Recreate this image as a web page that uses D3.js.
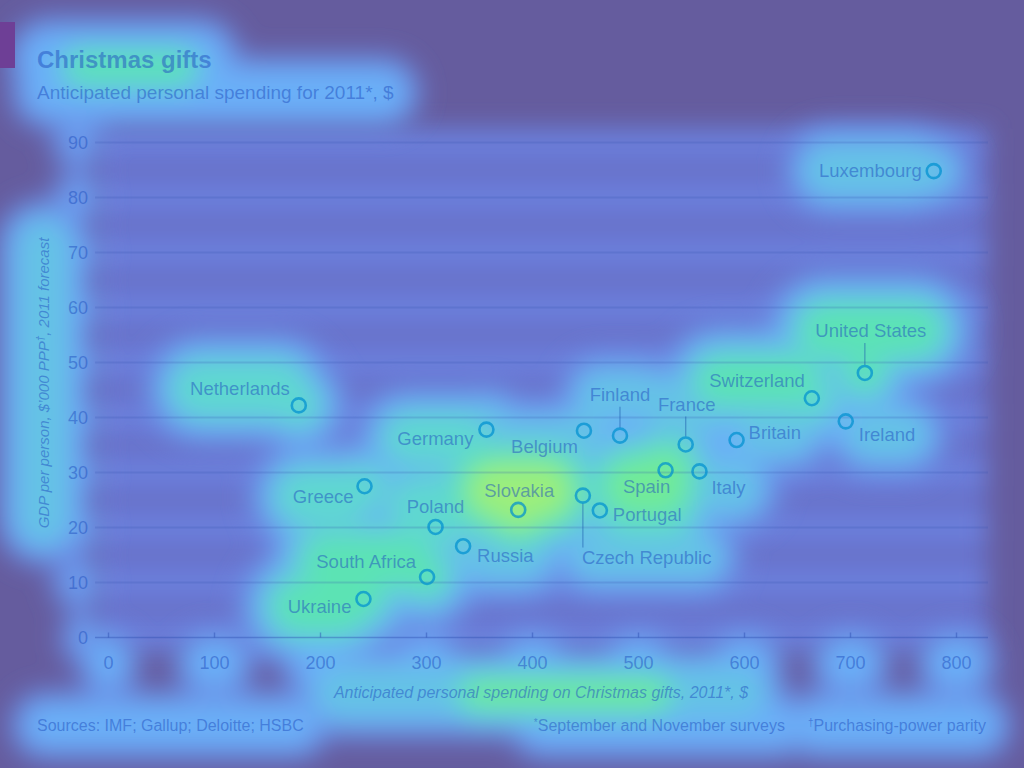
<!DOCTYPE html>
<html><head><meta charset="utf-8">
<script src="https://cdn.jsdelivr.net/npm/d3@7"></script>
<style>
html,body{margin:0;padding:0;background:#655c9e;}
svg{display:block;}
text{font-family:"Liberation Sans",Arial,sans-serif;}
</style></head>
<body>
<svg id="c" width="1024" height="768"></svg>
<script>
// ---- data ----
const countries = ["Luxembourg","United States","Switzerland","Ireland","Britain","France","Finland","Belgium","Germany","Netherlands","Greece","Poland","Russia","South Africa","Ukraine","Slovakia","Czech Republic","Portugal","Spain","Italy"];
const spending  = [779, 714, 664, 696, 593, 545, 483, 449, 357, 180, 242, 309, 335, 301, 241, 387, 448, 464, 526, 558];
const gdp       = [84.8, 48.1, 43.5, 39.3, 35.9, 35.1, 36.7, 37.6, 37.8, 42.2, 27.5, 20.1, 16.6, 11.0, 7.0, 23.2, 25.8, 23.1, 30.4, 30.2];
const xTicks = [0,100,200,300,400,500,600,700,800];
const yTicks = [0,10,20,30,40,50,60,70,80,90];

// ---- label placement (style) ----
const place = {
  "Luxembourg":    {a:"end",   dx:-12, dy:6},
  "United States": {a:"middle",dx:6,   dy:-36, lead:[-8,-30]},
  "Switzerland":   {a:"end",   dx:-7,  dy:-11},
  "Ireland":       {a:"start", dx:13,  dy:20},
  "Britain":       {a:"start", dx:12,  dy:-1},
  "France":        {a:"middle",dx:1,   dy:-33, lead:[-8,-28]},
  "Finland":       {a:"middle",dx:0,   dy:-35, lead:[-8,-29]},
  "Belgium":       {a:"end",   dx:-6,  dy:22},
  "Germany":       {a:"end",   dx:-13, dy:15},
  "Netherlands":   {a:"end",   dx:-9,  dy:-10},
  "Greece":        {a:"end",   dx:-11, dy:17},
  "Poland":        {a:"middle",dx:0,   dy:-14},
  "Russia":        {a:"start", dx:14,  dy:16},
  "South Africa":  {a:"end",   dx:-11, dy:-9},
  "Ukraine":       {a:"end",   dx:-12, dy:14},
  "Slovakia":      {a:"middle",dx:1,   dy:-13},
  "Czech Republic":{a:"start", dx:-1,  dy:68, lead:[8,52]},
  "Portugal":      {a:"start", dx:13,  dy:11},
  "Spain":         {a:"middle",dx:-19, dy:23},
  "Italy":         {a:"start", dx:12,  dy:23}
};
const heat = {
  "Luxembourg":0.56,"United States":0.7,"Switzerland":0.68,"Ireland":0.54,"Britain":0.54,
  "France":0.57,"Finland":0.52,"Belgium":0.58,"Germany":0.62,"Netherlands":0.66,"Greece":0.65,
  "Poland":0.66,"Russia":0.56,"South Africa":0.7,"Ukraine":0.7,"Slovakia":0.86,"Czech Republic":0.52,
  "Portugal":0.62,"Spain":0.8,"Italy":0.56
};

const W=1024,H=768;
const svg=d3.select("#c");
const x=d3.scaleLinear().domain([0,800]).range([108,956]);
const y=d3.scaleLinear().domain([0,90]).range([637.5,142.5]);
const cmap=d3.scaleLinear()
  .domain([0,0.25,0.45,0.6,0.7,0.85,1])
  .range(["#655c9e","#6a78d8","#6ab0f8","#5fd8d0","#5ae8a8","#b4f06a","#f0e050"])
  .interpolate(d3.interpolateRgb);

const defs=svg.append("defs");
[["blur",13],["blur2",12]].forEach(([id,s])=>{
  defs.append("filter").attr("id",id).attr("filterUnits","userSpaceOnUse")
    .attr("x",-60).attr("y",-60).attr("width",W+120).attr("height",H+120)
    .append("feGaussianBlur").attr("stdDeviation",s);
});

svg.append("rect").attr("width",W).attr("height",H).attr("fill","#655c9e");
const heatBase=svg.append("g").attr("filter","url(#blur2)");
const heatG=svg.append("g").attr("filter","url(#blur)");
const chart=svg.append("g");

const TXT="#2050c0", TOP=0.5;
const items=[];
function addHeat(sel,h,k,b0){ sel.each(function(){ const b=this.getBoundingClientRect(); items.push({x:b.left,y:b.top,w:b.width,h:b.height,heat:h,k:k||105,b0:b0==null?9:b0}); }); }

// plot base & gridline bands
heatBase.append("rect").attr("x",95).attr("y",132).attr("width",893).attr("height",515).attr("fill",cmap(0.18));
heatBase.selectAll("rect.band").data(yTicks).join("rect").attr("class","band")
  .attr("x",95).attr("width",893).attr("y",d=>y(d)-14).attr("height",28).attr("fill",cmap(0.28));

// tag
chart.append("rect").attr("x",0).attr("y",22).attr("width",15).attr("height",46).attr("fill","#6e3f96");

// title
const t1=chart.append("text").attr("x",37).attr("y",68).attr("font-size",24).attr("font-weight","bold")
  .attr("fill",TXT).attr("fill-opacity",TOP).text("Christmas gifts");
addHeat(t1,0.5);
const t1h=chart.append("rect").attr("x",75).attr("y",62).attr("width",110).attr("height",12).attr("fill","none");
addHeat(t1h,0.7,80,4);
const t2=chart.append("text").attr("x",37).attr("y",99).attr("font-size",19)
  .attr("fill",TXT).attr("fill-opacity",TOP).text("Anticipated personal spending for 2011*, $");
addHeat(t2,0.47);

// gridlines
chart.append("g").selectAll("line").data(yTicks.filter(d=>d>0)).join("line")
  .attr("x1",95).attr("x2",988).attr("y1",d=>y(d)).attr("y2",d=>y(d))
  .attr("stroke","#3050b0").attr("stroke-opacity",0.2).attr("stroke-width",2);
chart.append("line").attr("x1",95).attr("x2",988).attr("y1",y(0)).attr("y2",y(0))
  .attr("stroke","#2a4cb0").attr("stroke-opacity",0.4).attr("stroke-width",1.5);

// y axis
const ya=chart.append("g").attr("transform","translate(95,0)")
  .call(d3.axisLeft(y).tickValues(yTicks).tickSize(0).tickPadding(7));
ya.select(".domain").remove();
ya.selectAll("text").attr("font-size",18).attr("font-family","Liberation Sans, Arial, sans-serif")
  .attr("fill",TXT).attr("fill-opacity",TOP);
addHeat(ya.selectAll("text"),0.38);

// x axis
const xa=chart.append("g").attr("transform",`translate(0,${y(0)})`)
  .call(d3.axisBottom(x).tickValues(xTicks).tickSize(-5).tickPadding(19));
xa.select(".domain").remove();
xa.selectAll("line").attr("stroke","#2a4cb0").attr("stroke-opacity",0.45).attr("stroke-width",1.4);
xa.selectAll("text").attr("font-size",18).attr("font-family","Liberation Sans, Arial, sans-serif")
  .attr("fill",TXT).attr("fill-opacity",TOP);
addHeat(xa.selectAll("text"),0.46);

// axis titles
const xt=chart.append("text").attr("x",541).attr("y",698).attr("text-anchor","middle")
  .attr("font-size",16).attr("font-style","italic").attr("fill",TXT).attr("fill-opacity",TOP)
  .text("Anticipated personal spending on Christmas gifts, 2011*, $");
addHeat(xt,0.58);
const xth=chart.append("rect").attr("x",470).attr("y",688).attr("width",190).attr("height",12).attr("fill","none");
addHeat(xth,0.74,80,4);
const ytit=chart.append("text").attr("transform","translate(49,383) rotate(-90)").attr("text-anchor","middle")
  .attr("font-size",15).attr("font-style","italic").attr("fill",TXT).attr("fill-opacity",TOP);
ytit.append("tspan").text("GDP per person, $\u2019000 PPP");
ytit.append("tspan").attr("baseline-shift","super").attr("font-size",10).text("\u2020");
ytit.append("tspan").text(", 2011 forecast");
addHeat(ytit,0.58);

// footer
const f1=chart.append("text").attr("x",37).attr("y",731).attr("font-size",16)
  .attr("fill",TXT).attr("fill-opacity",TOP).text("Sources: IMF; Gallup; Deloitte; HSBC");
addHeat(f1,0.47);
const f2=chart.append("text").attr("x",785).attr("y",731).attr("text-anchor","end").attr("font-size",16)
  .attr("fill",TXT).attr("fill-opacity",TOP);
f2.append("tspan").attr("baseline-shift","super").attr("font-size",10).text("*");
f2.append("tspan").text("September and November surveys");
addHeat(f2,0.47);
const f3=chart.append("text").attr("x",986).attr("y",731).attr("text-anchor","end").attr("font-size",16)
  .attr("fill",TXT).attr("fill-opacity",TOP);
f3.append("tspan").attr("baseline-shift","super").attr("font-size",10).text("\u2020");
f3.append("tspan").text("Purchasing-power parity");
addHeat(f3,0.47);

// points & labels
const data=countries.map((c,i)=>({c,sx:spending[i],g:gdp[i]}));
const pg=chart.append("g");
data.forEach(d=>{
  const p=place[d.c], px=x(d.sx), py=y(d.g);
  if(p.lead){
    pg.append("line").attr("x1",px).attr("x2",px).attr("y1",py+p.lead[0]).attr("y2",py+p.lead[1])
      .attr("stroke","#2060b0").attr("stroke-opacity",0.5).attr("stroke-width",1.3);
  }
  const lab=pg.append("text").attr("x",px+p.dx).attr("y",py+p.dy).attr("text-anchor",p.a)
    .attr("font-size",18.5).attr("fill",TXT).attr("fill-opacity",TOP).text(d.c);
  addHeat(lab,heat[d.c]);
  const cc=pg.append("circle").attr("cx",px).attr("cy",py).attr("r",7)
    .attr("fill","none").attr("stroke","#0090d0").attr("stroke-opacity",0.72).attr("stroke-width",2.6);
  addHeat(cc,heat[d.c]-0.03);
});

// build heat layers
const levels=[0.3,0.38,0.45,0.52,0.6,0.67,0.74,0.81,0.88];
const rects=[];
items.forEach(it=>{
  levels.forEach(l=>{
    if(l<=it.heat+0.001){
      const pad=it.b0+(it.heat-l)*it.k;
      const w=it.w+2*pad, hh=it.h+2*pad;
      rects.push({x:it.x-pad,y:it.y-pad,w,h:hh,r:Math.min(hh/2,w/2),l});
    }
  });
});
rects.sort((a,b)=>a.l-b.l);
heatG.selectAll("rect").data(rects).join("rect")
  .attr("x",d=>d.x).attr("y",d=>d.y).attr("width",d=>d.w).attr("height",d=>d.h)
  .attr("rx",d=>d.r).attr("fill",d=>cmap(d.l));
</script>
</body></html>
